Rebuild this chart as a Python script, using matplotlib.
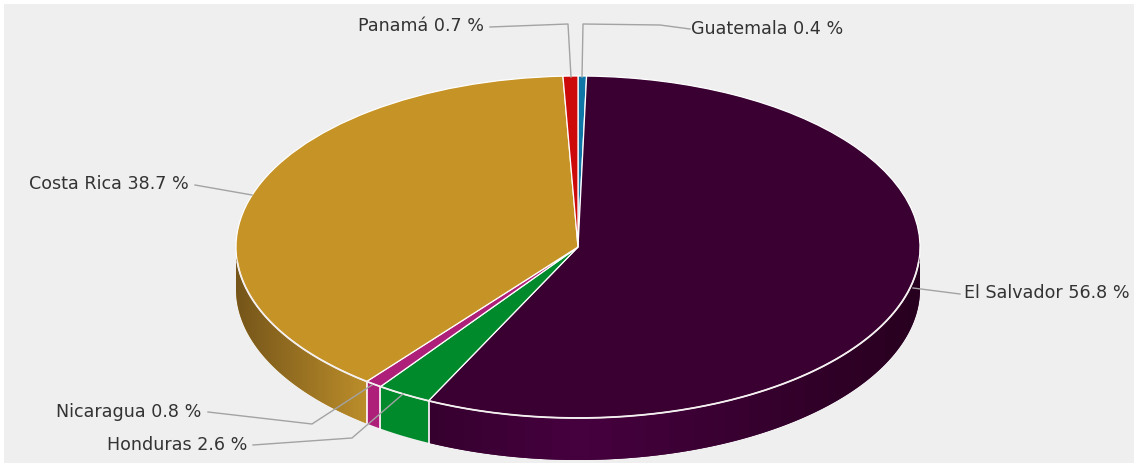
import numpy as np
import matplotlib
matplotlib.use('Agg')
import matplotlib.pyplot as plt
from matplotlib.colors import LinearSegmentedColormap
from matplotlib.patches import Polygon, Rectangle

# clockwise from twelve o'clock
countries = ['Guatemala', 'El Salvador', 'Honduras', 'Nicaragua', 'Costa Rica', 'Panamá']
shares = [0.4, 56.8, 2.6, 0.8, 38.7, 0.7]
labels = ['Guatemala 0.4 %', 'El Salvador 56.8 %', 'Honduras 2.6 %',
          'Nicaragua 0.8 %', 'Costa Rica 38.7 %', 'Panamá 0.7 %']
colors = ['#0f76a8', '#3b0032', '#008a2c', '#ad1f78', '#c69327', '#cc0a0a']

W, H = 1138, 466
CX, CY, RX, RY = 578, 247, 342, 171
DEPTH = 42 / RY


def px(x, y):
    return (x - CX) / RX, (CY - y) / RY


fig = plt.figure(figsize=(W / 100, H / 100), dpi=100, facecolor='white')
ax = fig.add_axes([0, 0, 1, 1])

ax.add_patch(Rectangle(px(4, 463), 1130 / RX, 459 / RY, fc='#efefef', ec='none', zorder=0))

# side wall shading, left to right over the pie width
wall_cmaps = {
    'El Salvador': LinearSegmentedColormap.from_list('es', ['#1f0018', '#46003f', '#28001f']),
    'Costa Rica': LinearSegmentedColormap.from_list('cr', ['#75551a', '#bb8d2a']),
}
wall_ranges = {'El Salvador': (-1.0, 1.0), 'Costa Rica': (-1.0, -0.62)}

# side wall, only the part of each slice that faces the viewer
edges = np.cumsum([0] + shares) / sum(shares) * 2 * np.pi
for i, name in enumerate(countries):
    a0, a1 = max(edges[i], np.pi / 2), min(edges[i + 1], 3 * np.pi / 2)
    if a1 <= a0:
        continue
    t = np.linspace(a0, a1, 200)
    top = np.column_stack([np.sin(t), np.cos(t)])
    outline = np.vstack([top, top[::-1] - [0, DEPTH]])
    wall = Polygon(outline, fc=colors[i], ec='none', zorder=1, transform=ax.transData)
    ax.add_patch(wall)
    if name in wall_cmaps:
        x0, x1 = wall_ranges[name]
        im = ax.imshow(np.linspace(0, 1, 256)[None, :], cmap=wall_cmaps[name], aspect='auto',
                       extent=(x0, x1, -1.3, 0.1), zorder=1.5)
        im.set_clip_path(wall)
    # white seam at the slice boundary
    if edges[i] > np.pi / 2:
        ax.plot([np.sin(edges[i])] * 2, [np.cos(edges[i]), np.cos(edges[i]) - DEPTH],
                color='white', lw=1.2, zorder=2)

# top face
ax.pie(shares, colors=colors, startangle=90, counterclock=False, radius=1,
       wedgeprops={'edgecolor': 'white', 'linewidth': 0.9, 'zorder': 3})

# rim highlight along the front
t = np.linspace(np.pi / 2 + 0.09, 3 * np.pi / 2 - 0.09, 300)
ax.plot(np.sin(t), np.cos(t), color='#f4f0f0', lw=1.3, zorder=4)

# leader lines in pixel positions
leaders = [
    [(690, 29), (660, 25), (583, 24), (582, 77)],
    [(913, 288), (960, 294)],
    [(253, 445), (352, 438), (403, 394)],
    [(208, 412), (312, 424), (372, 385)],
    [(195, 185), (252, 195)],
    [(490, 27), (568, 24), (571, 77)],
]
for path in leaders:
    xs, ys = zip(*[px(*p) for p in path])
    ax.plot(xs, ys, color='#a3a3a3', lw=1.0, zorder=5)

label_pos = [(691, 29, 'left'), (964, 293, 'left'), (247, 445, 'right'),
             (201, 412, 'right'), (189, 184, 'right'), (484, 26, 'right')]
for text, (x, y, ha) in zip(labels, label_pos):
    tx, ty = px(x, y)
    ax.text(tx, ty, text, ha=ha, va='center', fontsize=12.6, color='#333333', zorder=6)

ax.set_aspect('auto')
ax.set_xlim(-CX / RX, (W - CX) / RX)
ax.set_ylim((CY - H) / RY, CY / RY)
ax.axis('off')

fig.savefig('out.png', dpi=100, facecolor='white')
